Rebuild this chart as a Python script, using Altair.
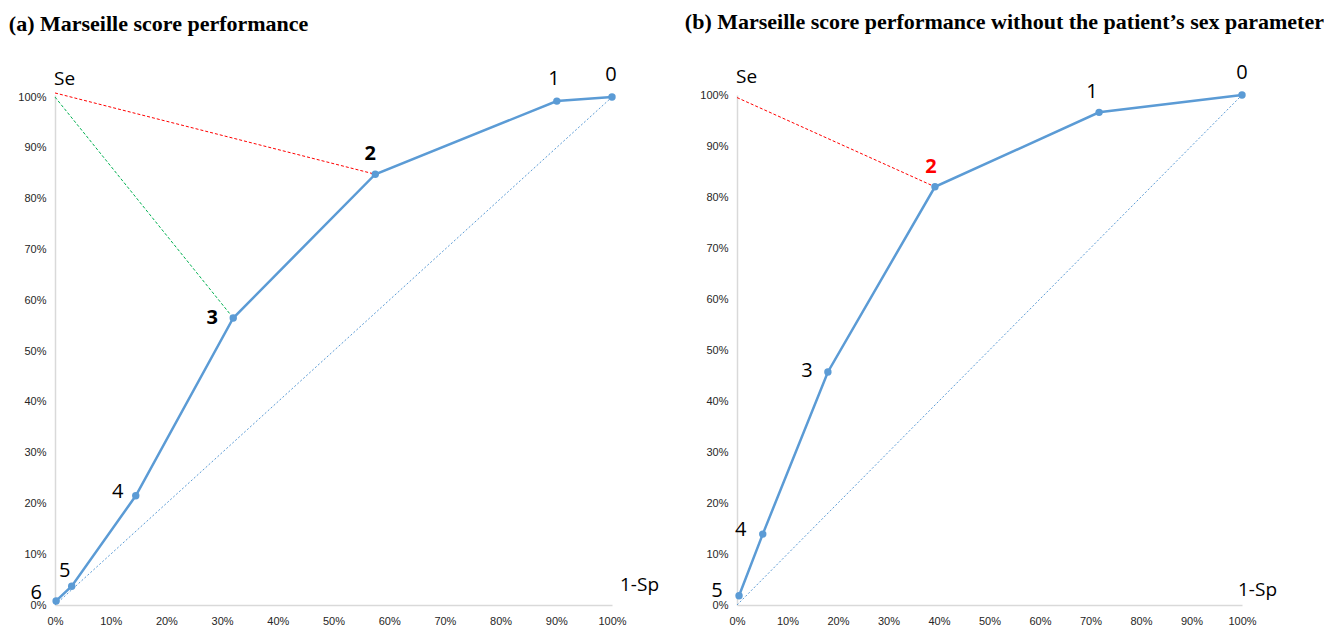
import altair as alt
import pandas as pd

# ---------- data ----------
ticks = [0.0, 0.1, 0.2, 0.3, 0.4, 0.5, 0.6, 0.7, 0.8, 0.9, 1.0]

a_scores = ["6", "5", "4", "3", "2", "1", "0"]
a_fpr = [0.002, 0.030, 0.145, 0.320, 0.575, 0.901, 1.000]
a_se = [0.008, 0.037, 0.215, 0.565, 0.848, 0.992, 1.000]

b_scores = ["5", "4", "3", "2", "1", "0"]
b_fpr = [0.004, 0.051, 0.180, 0.392, 0.717, 1.000]
b_se = [0.018, 0.139, 0.457, 0.820, 0.966, 1.000]

# reference segments from the ideal point (0, Se=100%) to the chosen cut-offs
a_ref_x0 = [0.0, 0.0]
a_ref_y0 = [1.008, 1.0]
a_ref_x1 = [0.575, 0.320]
a_ref_y1 = [0.848, 0.565]
a_ref_col = ["#FF0000", "#00B050"]

b_ref_x0 = [0.0]
b_ref_y0 = [0.995]
b_ref_x1 = [0.392]
b_ref_y1 = [0.820]
b_ref_col = ["#FF0000"]

titles = ["(a) Marseille score performance",
          "(b) Marseille score performance without the patient\u2019s sex parameter"]

# label styling (offsets in px, weight, colour) - presentation only
a_lbl_dx = [-20, -7, -18, -21, -5, -3, -1]
a_lbl_dy = [-8, -15, -4, 0, -20, -22, -22]
a_lbl_w = ["normal", "normal", "normal", "bold", "bold", "normal", "normal"]
a_lbl_c = ["black"] * 7

b_lbl_dx = [-22, -22, -21, -4, -7, 0]
b_lbl_dy = [-5, -4, -1, -20, -20, -22]
b_lbl_w = ["normal", "normal", "normal", "bold", "normal", "normal"]
b_lbl_c = ["black", "black", "black", "#FF0000", "black", "black"]

BLUE = "#5B9BD5"
LABEL_FONT = "Open Sans"
TICK_FONT = "Liberation Sans"


def panel(scores, fpr, se, rx0, ry0, rx1, ry1, rcol, ldx, ldy, lw, lc,
          title, w, h, ymax, tdx, sp_dx, sp_dy):
    xs = alt.Scale(domain=[0, 1], nice=False, clamp=False)
    ys = alt.Scale(domain=[0, ymax], nice=False, clamp=False)
    xax = alt.Axis(values=ticks, format=".0%", title=None, grid=False, ticks=False,
                   labelFont=TICK_FONT, labelFontSize=11,
                   labelColor="#262626", domainColor="#D9D9D9", domainWidth=1.5,
                   labelPadding=10, labelFlush=False)
    yax = alt.Axis(values=ticks, format=".0%", title=None, grid=False, ticks=False,
                   labelFont=TICK_FONT, labelFontSize=11,
                   labelColor="#262626", domainColor="#D9D9D9", domainWidth=1.5,
                   labelPadding=9, labelFlush=False)

    df = pd.DataFrame({"idx": list(range(len(scores))), "score": scores,
                       "fpr": fpr, "se": se})
    diag = pd.DataFrame({"fpr": [0.0, 1.0], "se": [0.0, 1.0]})
    refs = pd.DataFrame({"x0": rx0, "y0": ry0, "x1": rx1, "y1": ry1, "c": rcol})

    base_axes = alt.Chart(diag).mark_line(
        color=BLUE, strokeWidth=1, strokeDash=[2, 2]
    ).encode(
        x=alt.X("fpr:Q", scale=xs, axis=xax),
        y=alt.Y("se:Q", scale=ys, axis=yax),
    )

    ref = alt.Chart(refs).mark_rule(strokeWidth=1, strokeDash=[3, 2]).encode(
        x="x0:Q", y="y0:Q", x2="x1:Q", y2="y1:Q",
        color=alt.Color("c:N", scale=None),
    )

    line = alt.Chart(df).mark_line(color=BLUE, strokeWidth=2.5).encode(
        x="fpr:Q", y="se:Q", order="idx:Q")
    pts = alt.Chart(df).mark_circle(color=BLUE, size=55, opacity=1).encode(
        x="fpr:Q", y="se:Q")

    layers = [base_axes, ref, line, pts]
    for i in range(len(scores)):
        layers.append(
            alt.Chart(df.iloc[[i]]).mark_text(
                font=LABEL_FONT, fontSize=20, fontWeight=lw[i], color=lc[i],
                dx=ldx[i], dy=ldy[i], align="center", baseline="middle"
            ).encode(x="fpr:Q", y="se:Q", text="score:N")
        )

    se_df = pd.DataFrame({"fpr": [0.0], "se": [1.0], "t": ["Se"]})
    sp_df = pd.DataFrame({"fpr": [1.0], "se": [0.0], "t": ["1-Sp"]})
    layers.append(alt.Chart(se_df).mark_text(
        font=LABEL_FONT, fontSize=19, align="left", baseline="middle",
        dx=-1, dy=-18, color="black").encode(x="fpr:Q", y="se:Q", text="t:N"))
    layers.append(alt.Chart(sp_df).mark_text(
        font=LABEL_FONT, fontSize=19, align="left", baseline="middle",
        dx=sp_dx, dy=sp_dy, color="black").encode(x="fpr:Q", y="se:Q", text="t:N"))

    return alt.layer(*layers).properties(
        width=w, height=h,
        title=alt.TitleParams(title, anchor="start", font="Liberation Serif",
                              fontSize=22, fontWeight="bold", color="black",
                              dx=tdx, offset=29),
    )


pa = panel(a_scores, a_fpr, a_se, a_ref_x0, a_ref_y0, a_ref_x1, a_ref_y1, a_ref_col,
           a_lbl_dx, a_lbl_dy, a_lbl_w, a_lbl_c, titles[0], 557, 510, 1.004, -9, 8, -20)
pb = panel(b_scores, b_fpr, b_se, b_ref_x0, b_ref_y0, b_ref_x1, b_ref_y1, b_ref_col,
           b_lbl_dx, b_lbl_dy, b_lbl_w, b_lbl_c, titles[1], 505, 510, 1.0, -15, -4, -15)

chart = alt.hconcat(pa, pb, spacing=125, bounds="flush").properties(
    padding={"left": 0, "top": 3, "right": 0, "bottom": 0}
).configure_view(strokeWidth=0)

chart.save("out.html", embed_options={"renderer": "svg", "actions": False})
